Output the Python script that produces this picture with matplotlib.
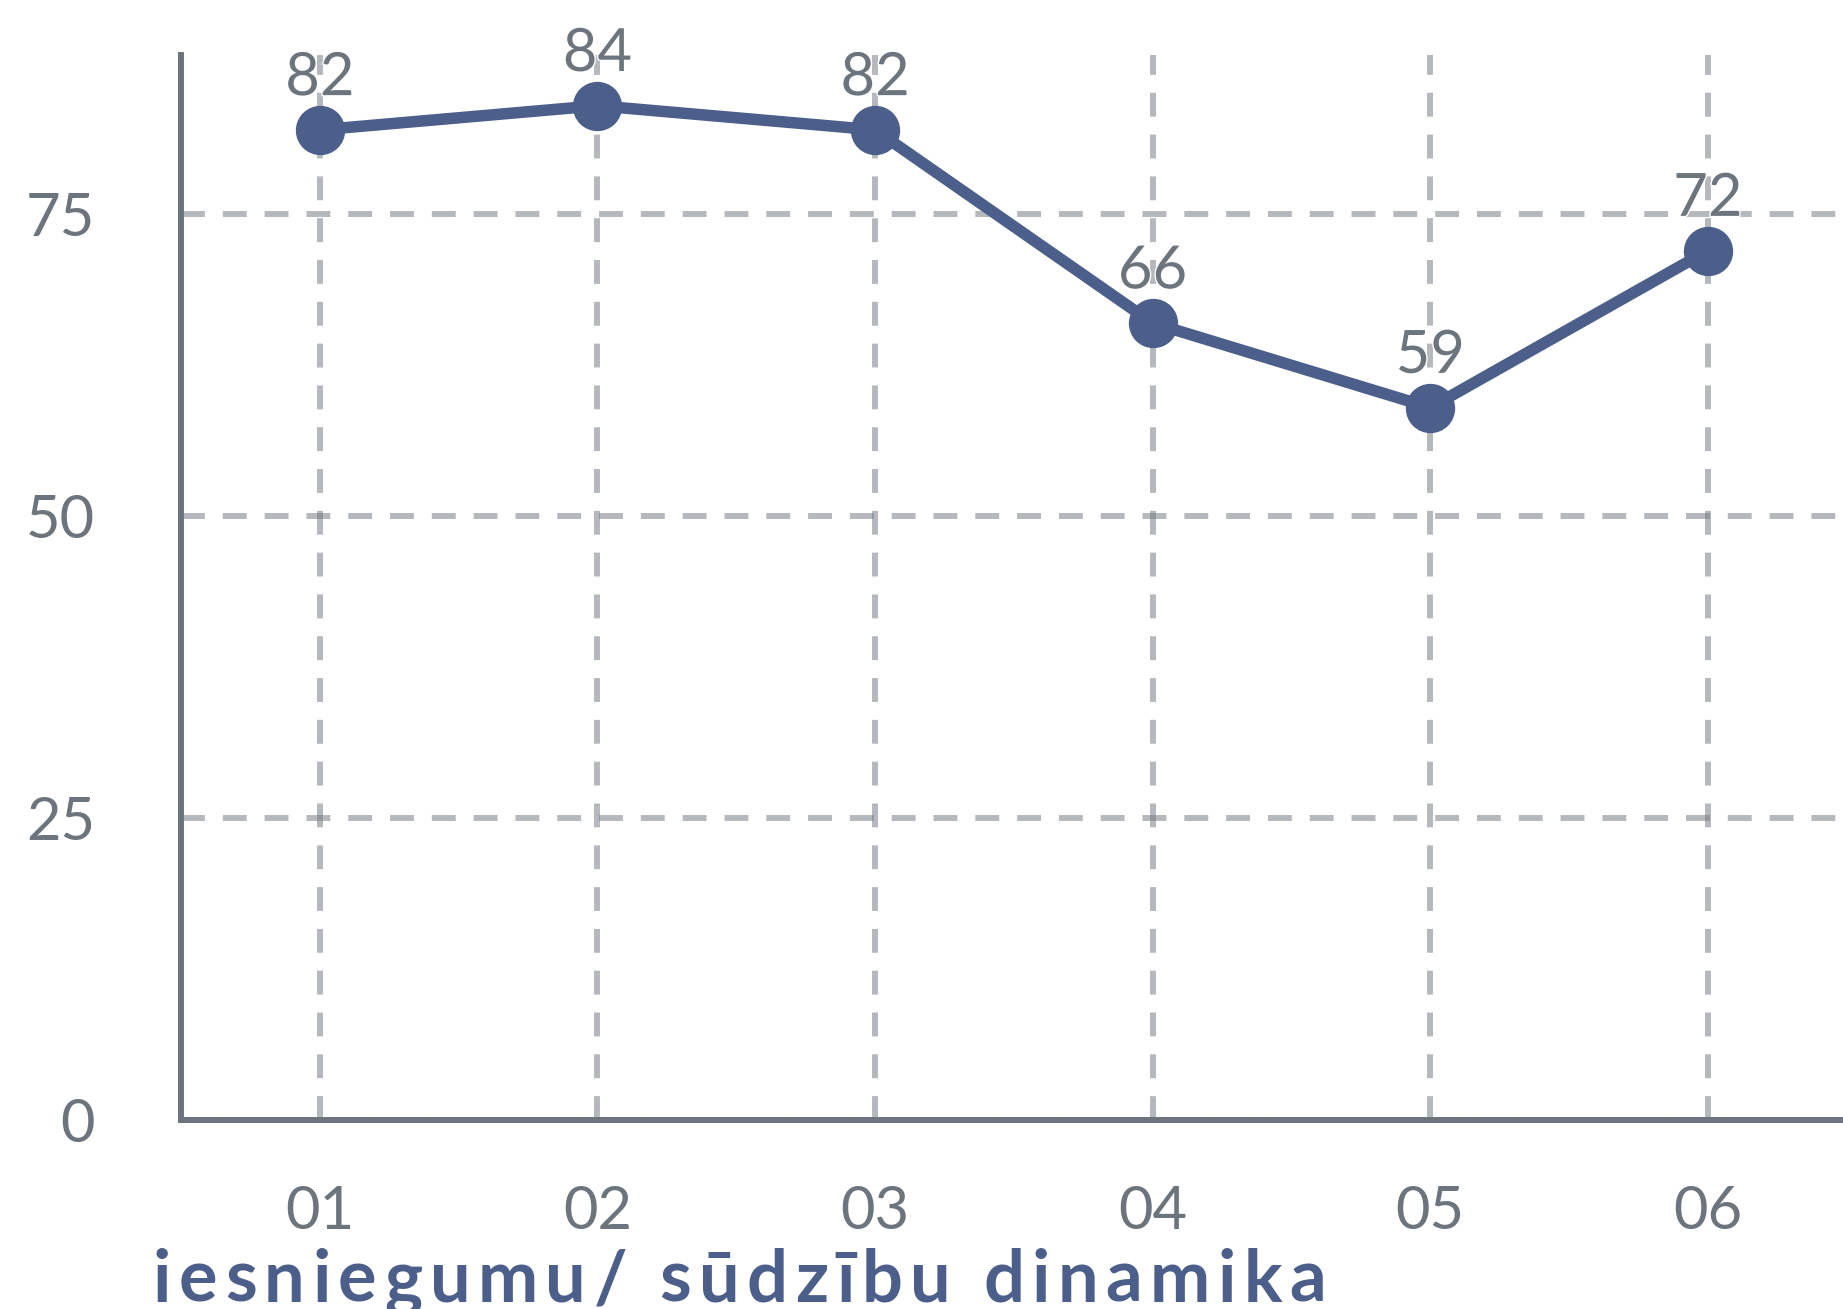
import numpy as np
import matplotlib
matplotlib.use('Agg')
import matplotlib.pyplot as plt
import matplotlib.patheffects as pe

# data
months = ['01', '02', '03', '04', '05', '06']
counts = [82, 84, 82, 66, 59, 72]
yticks = [0, 25, 50, 75]
title = 'iesniegumu/ sūdzību dinamika'

W, H = 1843, 1309
grey = '#6c757d'
blue = '#4c5e8a'

plt.rcParams['font.family'] = ['Lato', 'DejaVu Sans']

fig = plt.figure(figsize=(W / 100, H / 100), dpi=100)
ax = fig.add_axes([181 / W, 1 - 1120 / H, 1 - 181 / W + 0.002, (1120 - 55) / H])

x = np.arange(1, len(months) + 1)
ax.plot(x, counts, color=blue, lw=8.3, marker='o', ms=34.5, zorder=3,
        solid_capstyle='round')

for xi, v in zip(x, counts):
    ax.annotate(str(v), (xi, v), xytext=(0, 25), textcoords='offset points',
                ha='center', va='baseline', fontsize=43,
                color=grey, zorder=4,
                path_effects=[pe.withStroke(linewidth=2, foreground='white')])

ax.set_xlim(0.5, 6.5)
ax.set_ylim(0, 88.2)
ax.set_xticks(x)
ax.set_xticklabels(months)
ax.set_yticks(yticks)

ax.grid(True, color=grey, alpha=0.5, lw=4.3, linestyle=(0, (4.0, 3.0)), zorder=1)
ax.set_axisbelow(True)

for side in ['top', 'right']:
    ax.spines[side].set_visible(False)
for side in ['left', 'bottom']:
    ax.spines[side].set_color(grey)
    ax.spines[side].set_linewidth(4.3)

ax.tick_params(length=0, labelsize=43, labelcolor=grey)
ax.tick_params(axis='y', pad=62)
ax.tick_params(axis='x', pad=47)

# title with letter spacing, drawn char by char
renderer = fig.canvas.get_renderer()
tkw = dict(fontsize=52, fontweight='bold', color=blue)

def text_w(s):
    t = fig.text(0, 0, s, **tkw)
    w = t.get_window_extent(renderer).width
    t.remove()
    return w

x0, target = 153, 1173
natural = text_w(title)
track = (target - natural) / (len(title) - 1)
for i, c in enumerate(title):
    if c == ' ':
        continue
    off = text_w(title[:i + 1]) - text_w(c)
    fig.text((x0 + off + i * track) / W, 1 - 1302 / H, c, ha='left', va='baseline', **tkw)

fig.savefig('out.png', dpi=100)
